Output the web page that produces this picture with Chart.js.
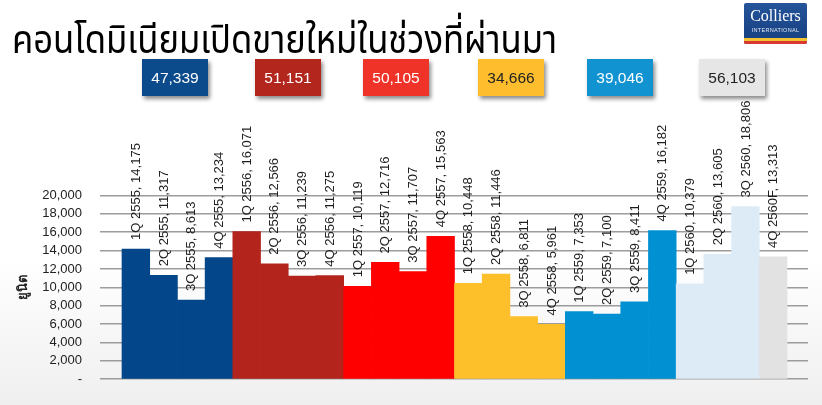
<!DOCTYPE html>
<html><head><meta charset="utf-8">
<script src="https://cdn.jsdelivr.net/npm/chart.js@4"></script>
<style>
html,body{margin:0;padding:0;}
body{width:822px;height:405px;position:relative;overflow:hidden;
 background:linear-gradient(to bottom,#ffffff 0px,#ffffff 260px,#efefef 405px);
 font-family:"Liberation Sans",Arial,sans-serif;}
#c{position:absolute;left:0;top:0;}
#title{position:absolute;left:12px;top:19px;font-size:40px;line-height:44px;color:#000;white-space:nowrap;
 font-family:"Noto Sans Thai","Noto Sans","DejaVu Sans",sans-serif;transform-origin:0 0;transform:scaleX(0.865);}
.box{position:absolute;top:59px;width:66px;height:37px;line-height:37px;text-align:center;font-size:15.5px;
 box-shadow:2px 3px 4px rgba(0,0,0,.45);}
#logo{position:absolute;left:744px;top:3px;width:63px;height:41px;overflow:hidden;border-radius:2px;
 background:linear-gradient(to bottom,#25549a,#153f80);}
#logo .n{position:absolute;left:0;width:63px;top:5px;text-align:center;color:#fff;font-family:"Liberation Serif",serif;font-size:16px;line-height:16px;}
#logo .i{position:absolute;left:0;width:63px;top:24px;text-align:center;color:#dfe6f2;font-size:5.5px;letter-spacing:0.3px;line-height:6px;}
#logo .s1{position:absolute;left:0;top:35px;width:63px;height:3px;background:#f1c232;}
#logo .s2{position:absolute;left:0;top:38px;width:63px;height:3px;background:#d9392f;}
</style></head>
<body>
<canvas id="c" width="822" height="405"></canvas>
<div id="title">คอนโดมิเนียมเปิดขายใหม่ในช่วงที่ผ่านมา</div>
<div id="boxes"></div>
<div id="logo"><div class="n">Colliers</div><div class="i">INTERNATIONAL</div><div class="s1"></div><div class="s2"></div></div>
<script>
const categories = ['1Q 2555','2Q 2555','3Q 2555','4Q 2555','1Q 2556','2Q 2556','3Q 2556','4Q 2556',
  '1Q 2557','2Q 2557','3Q 2557','4Q 2557','1Q 2558','2Q 2558','3Q 2558','4Q 2558',
  '1Q 2559','2Q 2559','3Q 2559','4Q 2559','1Q 2560','2Q 2560','3Q 2560','4Q 2560F'];
const units = [14175,11317,8613,13234,16071,12566,11239,11275,10119,12716,11707,15563,
  10448,11446,6811,5961,7353,7100,8411,16182,10379,13605,18806,13313];
const yearTotals = [47339,51151,50105,34666,39046,56103];
const yTicks = [0,2000,4000,6000,8000,10000,12000,14000,16000,18000,20000];

const barColors = ['#03478a','#03478a','#03478a','#03478a','#b2241c','#b2241c','#b2241c','#b2241c',
  '#fe0000','#fe0000','#fe0000','#fe0000','#fdc02a','#fdc02a','#fdc02a','#fdc02a',
  '#0190d1','#0190d1','#0190d1','#0190d1','#ddebf7','#ddebf7','#ddebf7','#e2e2e2'];
const boxStyles = [
  {left:142,bg:'#0b4b8b',fg:'#fff'},{left:255,bg:'#b3261e',fg:'#fff'},{left:363,bg:'#ef3329',fg:'#fff'},
  {left:478,bg:'#fdbd2c',fg:'#222'},{left:587,bg:'#1193d2',fg:'#fff'},{left:699,bg:'#e6e6e6',fg:'#222'}];

const fmt = v => v.toLocaleString('en-US');
const boxes = document.getElementById('boxes');
yearTotals.forEach((t,i)=>{
  const d=document.createElement('div'); d.className='box';
  d.style.left=boxStyles[i].left+'px'; d.style.background=boxStyles[i].bg; d.style.color=boxStyles[i].fg;
  d.textContent=fmt(t); boxes.appendChild(d);
});

const FONT='"Liberation Sans", Arial, sans-serif';
const labelPlugin = {
  id:'barLabels',
  afterDatasetsDraw(chart){
    const ctx=chart.ctx, meta=chart.getDatasetMeta(0);
    ctx.save();
    ctx.font='13px '+FONT; ctx.fillStyle='#1e1e1e';
    meta.data.forEach((bar,i)=>{
      ctx.save();
      ctx.translate(bar.x+0.5, bar.y-9);
      ctx.rotate(-Math.PI/2);
      ctx.textAlign='left'; ctx.textBaseline='middle';
      ctx.fillText(categories[i]+', '+fmt(units[i]),0,0);
      ctx.restore();
    });
    ctx.restore();
  }
};

new Chart(document.getElementById('c'),{
  type:'bar',
  data:{datasets:[{
    data: units.map((v,i)=>({x:i,y:v})),
    backgroundColor: barColors, borderWidth:0,
    barPercentage:1, categoryPercentage:1
  }]},
  options:{
    responsive:false, animation:false, devicePixelRatio:1,
    layout:{padding:{top:195.5,right:14,bottom:15,left:0}},
    plugins:{legend:{display:false},tooltip:{enabled:false}},
    scales:{
      x:{type:'linear',min:-1.294,max:24.258,offset:false,display:false,grid:{offset:false}},
      y:{min:0,max:20000,
        afterBuildTicks(s){ s.ticks=yTicks.map(v=>({value:v})); },
        afterFit(s){ s.width=100; },
        ticks:{color:'#222',font:{size:13,family:FONT},padding:18,
          callback:v=> v===0?'-':fmt(v)},
        grid:{color:'#9c9c9c',lineWidth:1.5,drawTicks:false},
        border:{display:false},
        title:{display:true,text:'ยูนิต',color:'#222',font:{size:13,weight:'bold',family:FONT},padding:{top:16,bottom:0}}
      }
    }
  },
  plugins:[labelPlugin]
});
</script>
</body></html>
